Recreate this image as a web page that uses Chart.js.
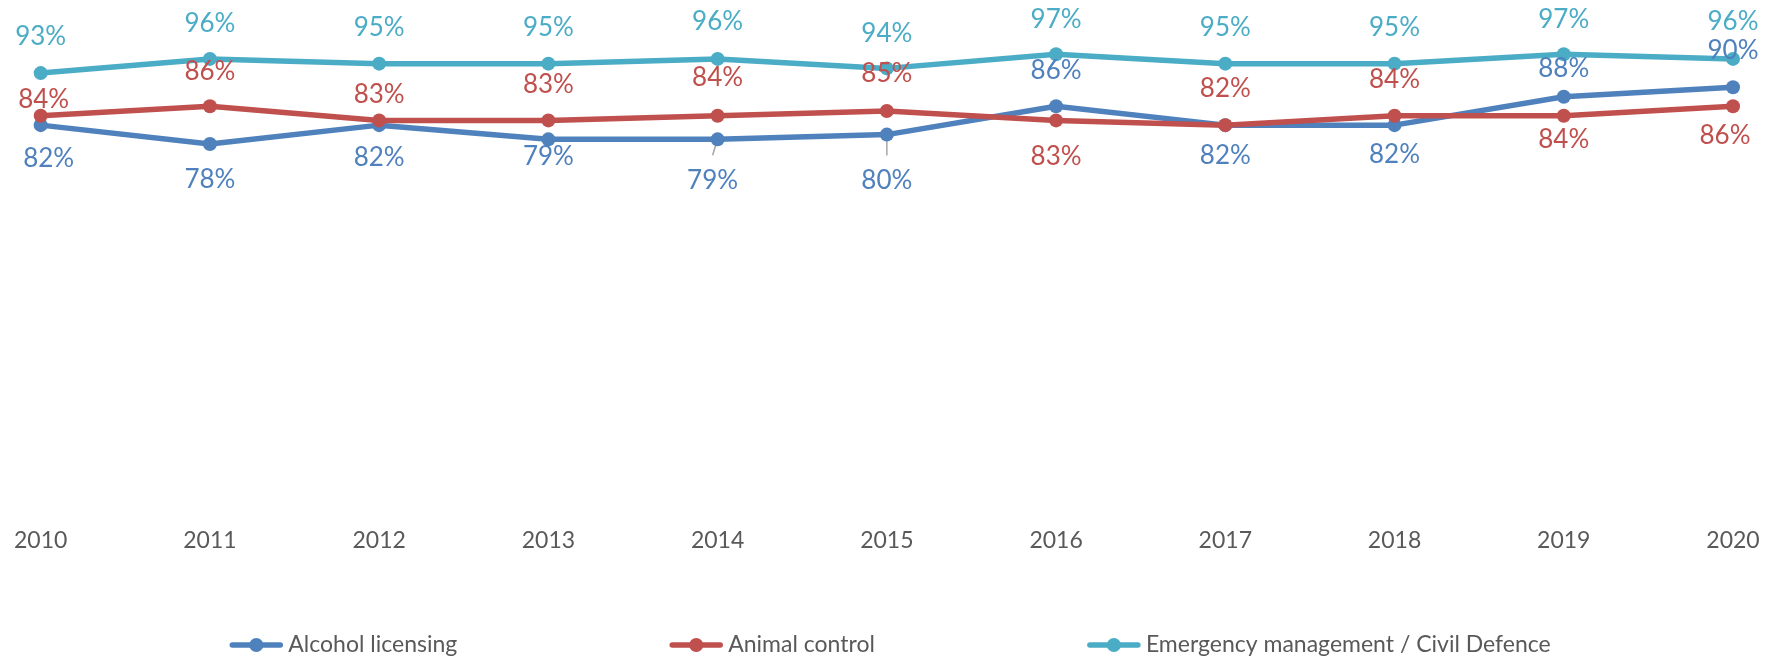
<!DOCTYPE html>
<html>
<head>
<meta charset="utf-8">
<script src="https://cdn.jsdelivr.net/npm/chart.js@4.4.0/dist/chart.umd.min.js"></script>
<style>
  html, body { margin: 0; padding: 0; background: #fff; }
  canvas { display: block; }
</style>
</head>
<body>
<canvas id="chart" width="1781" height="658"></canvas>
<script>
const years = ["2010", "2011", "2012", "2013", "2014", "2015", "2016", "2017", "2018", "2019", "2020"];
const alcohol = [82, 78, 82, 79, 79, 80, 86, 82, 82, 88, 90];
const animal = [84, 86, 83, 83, 84, 85, 83, 82, 84, 84, 86];
const emergency = [93, 96, 95, 95, 96, 94, 97, 95, 95, 97, 96];
const seriesNames = ["Alcohol licensing", "Animal control", "Emergency management / Civil Defence"];

// label placement (px offset of label centre from the point), as in the original
const alcoholLabelDy = [33, 36, 32, 17, 41, 46, -36, 30, 29, -28, -37];
const alcoholLabelDx = [8, 0, 0, 0, -5, 0, 0, 0, 0, 0, 0];
const alcoholLeader = [false, false, false, false, true, true, false, false, false, false, false];
const animalLabelDy = [-16, -35, -26, -36, -38, -37, 36, -37, -36, 24, 29];
const animalLabelDx = [3, 0, 0, 0, 0, 0, 0, 0, 0, 0, -8];
const emergencyLabelDy = [-37, -35, -36, -36, -37, -35, -35, -36, -36, -35, -37];

const colors = ["#4F81BD", "#C0504D", "#4BACC6"];
const textColor = "#595959";
const fontFamily = "Lato, 'Open Sans', sans-serif";

function lineSet(label, data, color, order, dy, dx, leader) {
  return {
    label, data, order,
    borderColor: color,
    backgroundColor: color,
    borderWidth: 5.5,
    borderJoinStyle: "round",
    borderCapStyle: "round",
    pointRadius: 7,
    pointHoverRadius: 7,
    pointBorderWidth: 0,
    pointBackgroundColor: color,
    tension: 0,
    clip: false,
    labelDy: dy,
    labelDx: dx || dy.map(() => 0),
    leader: leader || dy.map(() => false)
  };
}

const dataLabels = {
  id: "dataLabels",
  beforeDatasetsDraw(chart) {
    const ctx = chart.ctx;
    ctx.save();
    ctx.strokeStyle = "#A6A6A6";
    ctx.lineWidth = 1.5;
    chart.data.datasets.forEach((ds, di) => {
      const meta = chart.getDatasetMeta(di);
      meta.data.forEach((pt, i) => {
        if (!ds.leader[i]) return;
        ctx.beginPath();
        ctx.moveTo(pt.x, pt.y);
        ctx.lineTo(pt.x + ds.labelDx[i], pt.y + ds.labelDy[i] - 25);
        ctx.stroke();
      });
    });
    ctx.restore();
  },
  afterDatasetsDraw(chart) {
    const ctx = chart.ctx;
    ctx.save();
    ctx.font = "26px " + fontFamily;
    ctx.textAlign = "center";
    ctx.textBaseline = "middle";
    chart.data.datasets.forEach((ds, di) => {
      const meta = chart.getDatasetMeta(di);
      ctx.fillStyle = ds.borderColor;
      meta.data.forEach((pt, i) => {
        ctx.fillText(ds.data[i] + "%", pt.x + ds.labelDx[i], pt.y + ds.labelDy[i]);
      });
    });
    ctx.restore();
  }
};

const bottomLegend = {
  id: "bottomLegend",
  afterDraw(chart) {
    const ctx = chart.ctx;
    ctx.save();
    ctx.font = "23px " + fontFamily;
    ctx.textBaseline = "middle";
    const markerW = 52, gapText = 6, gapItem = 213, y = 645;
    const widths = seriesNames.map(n => markerW + gapText + ctx.measureText(n).width);
    const total = widths.reduce((a, b) => a + b, 0) + gapItem * (seriesNames.length - 1);
    let x = (chart.width - total) / 2;
    seriesNames.forEach((name, i) => {
      ctx.strokeStyle = colors[i];
      ctx.fillStyle = colors[i];
      ctx.lineWidth = 5.5;
      ctx.lineCap = "round";
      ctx.beginPath();
      ctx.moveTo(x + 2, y);
      ctx.lineTo(x + markerW - 2, y);
      ctx.stroke();
      ctx.beginPath();
      ctx.arc(x + markerW / 2, y, 7, 0, Math.PI * 2);
      ctx.fill();
      ctx.fillStyle = textColor;
      ctx.fillText(name, x + markerW + gapText, y);
      x += widths[i] + gapItem;
    });
    ctx.restore();
  }
};

new Chart(document.getElementById("chart"), {
  type: "line",
  data: {
    labels: years,
    datasets: [
      lineSet(seriesNames[0], alcohol, colors[0], 3, alcoholLabelDy, alcoholLabelDx, alcoholLeader),
      lineSet(seriesNames[1], animal, colors[1], 2, animalLabelDy, animalLabelDx),
      lineSet(seriesNames[2], emergency, colors[2], 1, emergencyLabelDy)
    ]
  },
  options: {
    responsive: false,
    animation: false,
    layout: { padding: { top: 40, left: 40, right: 48, bottom: 89.4 } },
    plugins: {
      legend: { display: false },
      tooltip: { enabled: false }
    },
    scales: {
      x: {
        offset: false,
        grid: { display: false, drawTicks: false },
        border: { display: false },
        ticks: {
          color: textColor,
          padding: 14,
          maxRotation: 0,
          font: { family: fontFamily, size: 23 }
        }
      },
      y: {
        display: false,
        min: 0,
        max: 100
      }
    }
  },
  plugins: [dataLabels, bottomLegend]
});
</script>
</body>
</html>
